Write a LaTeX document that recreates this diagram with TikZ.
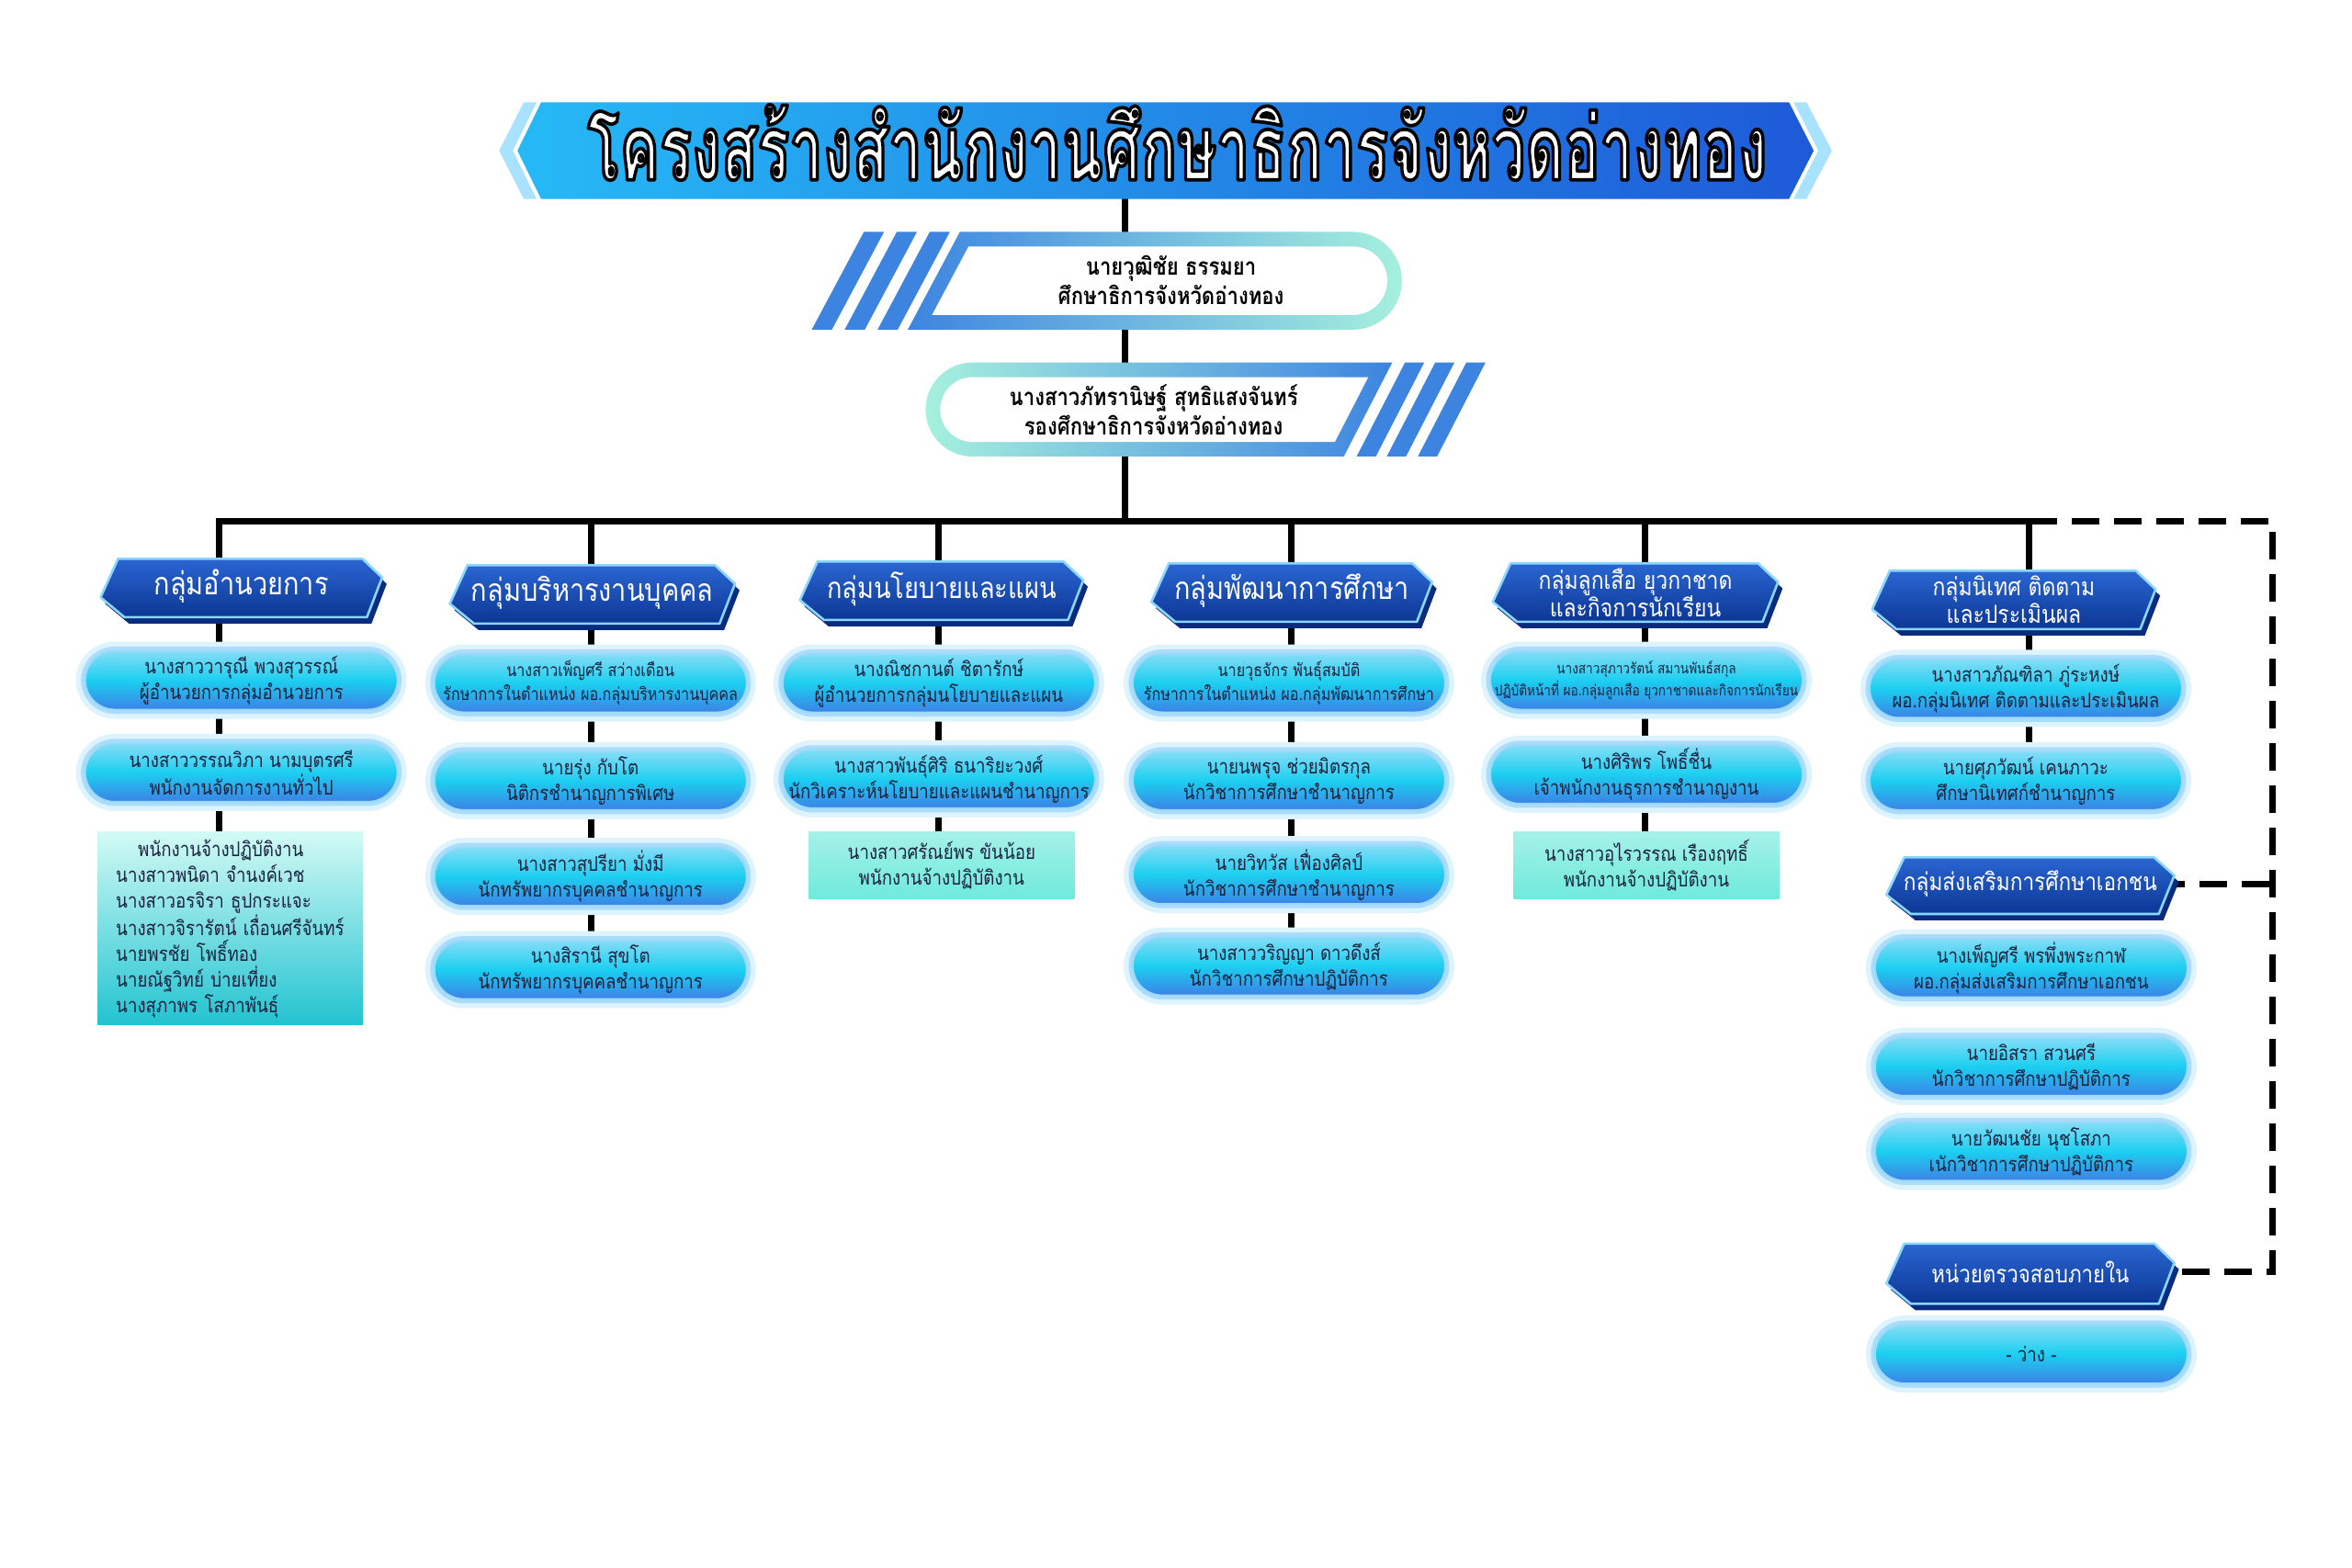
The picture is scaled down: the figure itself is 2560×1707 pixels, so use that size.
\documentclass[tikz,border=0pt]{standalone}
\usepackage{fontspec}
\usepackage{graphicx}
\usetikzlibrary{calc}
\newfontfamily\thaiN[Script=Thai,FakeStretch=0.85]{Loma}
\newfontfamily\thaiT[Script=Thai,FakeStretch=0.75]{Loma}
\newcommand\fPill{\thaiN\fontsize{11}{14}\selectfont}
\newcommand\fPillS{\thaiN\fontsize{9.5}{13}\selectfont}
\newcommand\fSmall{\thaiN\fontsize{8}{12}\selectfont}
\newcommand\fHdr{\thaiN\fontsize{17}{20}\selectfont}
\newcommand\fHdrTwo{\thaiN\fontsize{13.5}{15}\selectfont}
\newcommand\fBoss{\thaiN\bfseries\fontsize{13}{16}\selectfont}
\newcommand\fTitle{\thaiT\bfseries\fontsize{44}{50}\selectfont}
\newcommand\titlestroke{\special{pdf:literal direct 0 0 0 RG 1.7 w 1 j 2 Tr}}
\newcommand\titleunstroke{\special{pdf:literal direct 0 Tr}}
\definecolor{navytext}{HTML}{1B2340}
\definecolor{pillTop}{HTML}{86DDF7}
\definecolor{pillMid}{HTML}{1CCFF0}
\definecolor{pillBot}{HTML}{3C82E6}
\definecolor{haloA}{HTML}{DDF4FE}
\definecolor{haloB}{HTML}{A9DDFB}
\definecolor{pillRim}{HTML}{9ED9FA}
\definecolor{hdrTop}{HTML}{2A66D2}
\definecolor{hdrBot}{HTML}{0C3694}
\definecolor{hdrBack}{HTML}{0A2C7E}
\definecolor{hdrRim}{HTML}{8AD6FF}
\definecolor{ribBlue}{HTML}{3D84E0}
\definecolor{ribMint}{HTML}{A6F0DE}
\definecolor{banL}{HTML}{26B9F6}
\definecolor{banR}{HTML}{1E5AD8}
\definecolor{banEdge}{HTML}{A8E2FF}
\definecolor{tealTop}{HTML}{D2FAF4}
\definecolor{tealBot}{HTML}{22C3D1}
\definecolor{mintTop}{HTML}{A5F1E8}
\definecolor{mintBot}{HTML}{6EEADB}
\pgfdeclarelayer{bg}
\pgfsetlayers{bg,main}
\newcommand\hdrbox[4]{%
\fill[hdrBack] ({#1-0.438*#3+5},{#2-0.5*#4+7}) -- ({#1+0.43*#3+5},{#2-0.5*#4+7}) -- ({#1+0.5*#3+5},{#2-0.18*#4+7}) -- ({#1+0.446*#3+5},{#2+0.5*#4+7}) -- ({#1-0.415*#3+5},{#2+0.5*#4+7}) -- ({#1-0.5*#3+5},{#2+0.16*#4+7}) -- cycle;
\path[top color=hdrTop, bottom color=hdrBot, draw=hdrRim, line width=1.3pt, line join=round] ({#1-0.438*#3},{#2-0.5*#4}) -- ({#1+0.43*#3},{#2-0.5*#4}) -- ({#1+0.5*#3},{#2-0.18*#4}) -- ({#1+0.446*#3},{#2+0.5*#4}) -- ({#1-0.415*#3},{#2+0.5*#4}) -- ({#1-0.5*#3},{#2+0.16*#4}) -- cycle;}
\tikzset{
  conn/.style={line width=3.5pt, draw=black},
  dline/.style={line width=3.5pt, draw=black, dash pattern=on 15pt off 8pt},
  pill/.style={rectangle, rounded corners=16pt, minimum width=170pt, minimum height=32pt, inner sep=0pt, align=center, text=navytext, font=\fPill, top color=pillTop, bottom color=pillBot, middle color=pillMid, draw=pillRim, line width=1pt, preaction={draw=haloA, line width=10pt}, preaction={draw=haloB, line width=4.5pt}},
  tealbox/.style={rectangle, minimum width=144.5pt, inner sep=0pt, align=center, text=navytext, font=\fPill, top color=tealTop, bottom color=tealBot},
  mintbox/.style={tealbox, top color=mintTop, bottom color=mintBot, minimum height=36.5pt},
  hdr/.style={text=white, font=\fHdr, align=center, inner sep=0pt},
  hdrtwo/.style={hdr, font=\fHdrTwo},
  boss/.style={text=black, font=\fBoss, align=center, inner sep=0pt}
}
\begin{document}
\begin{tikzpicture}[x=0.5pt,y=-0.5pt]
\useasboundingbox (0,0) rectangle (2560,1707);
\begin{scope}[x=0.4975pt,y=-0.497pt]
% ---- title banner
\fill[banEdge] (546,165) -- (573,112) -- (587,112) -- (561,165) -- (587,218) -- (573,218) -- cycle;
\fill[banEdge] (1962,112) -- (1976,112) -- (2004,165) -- (1976,218) -- (1962,218) -- (1989,165) -- cycle;
\shade[left color=banL, right color=banR] (592,112) -- (1957,112) -- (1984,165) -- (1957,218) -- (592,218) -- (566,165) -- cycle;
\node[anchor=base, text=white, inner sep=0pt] (title) at (1288,197) {\titlestroke\resizebox{642pt}{41pt}{\fTitle โครงสร้างสำนักงานศึกษาธิการจังหวัดอ่างทอง}\titleunstroke};
% ---- director
\foreach \a in {888,924,960} \fill[ribBlue] (\a,361) -- ({\a+57},254) -- ({\a+79},254) -- ({\a+22},361) -- cycle;
\shade[left color=ribBlue, right color=ribMint] (993,361) -- (1050,254) -- (1480,254) arc[start angle=-90,end angle=90,radius=53.5] -- cycle;
\fill[white] (1019.5,345) -- (1059.5,270) -- (1480,270) arc[start angle=-90,end angle=90,radius=37.5] -- cycle;
\node[boss] (dir) at (1281,307) {นายวุฒิชัย ธรรมยา\\ศึกษาธิการจังหวัดอ่างทอง};
% ---- deputy
\foreach \a in {1484,1517,1551} \fill[ribBlue] (\a,500) -- ({\a+53},397) -- ({\a+74},397) -- ({\a+21},500) -- cycle;
\shade[left color=ribMint, right color=ribBlue] (1064,397) -- (1523,397) -- (1470,500) -- (1064,500) arc[start angle=90,end angle=270,radius=51.5] -- cycle;
\fill[white] (1064,413) -- (1496.8,413) -- (1460.2,484) -- (1064,484) arc[start angle=90,end angle=270,radius=35.5] -- cycle;
\node[boss] (dep) at (1262,449) {นางสาวภัทรานิษฐ์ สุทธิแสงจันทร์\\รองศึกษาธิการจังหวัดอ่างทอง};
% ---- bus coordinates
\coordinate (bus0) at (1231,571);
\coordinate (b1) at (240,571);
\coordinate (b2) at (647,571);
\coordinate (b3) at (1027,571);
\coordinate (b4) at (1413,571);
\coordinate (b5) at (1799,571);
\coordinate (b6) at (2220,571);
\coordinate (dc) at (2486,571);
% ---- group headers
\hdrbox{264}{644}{308}{64}
\node[hdr] (h1) at (264,642) {กลุ่มอำนวยการ};
\hdrbox{648}{651}{312}{64}
\node[hdr] (h2) at (648,649) {กลุ่มบริหารงานบุคคล};
\hdrbox{1030}{647}{310}{64}
\node[hdr, font=\thaiN\fontsize{16}{20}\selectfont] (h3) at (1030,645) {กลุ่มนโยบายและแผน};
\hdrbox{1413}{649}{307}{64}
\node[hdr] (h4) at (1413,647) {กลุ่มพัฒนาการศึกษา};
\hdrbox{1789}{649}{312}{64}
\node[hdrtwo] (h5) at (1789,649) {กลุ่มลูกเสือ ยุวกาชาด\\และกิจการนักเรียน};
\hdrbox{2203}{657}{310}{64}
\node[hdrtwo] (h6) at (2203,657) {กลุ่มนิเทศ ติดตาม\\และประเมินผล};
\hdrbox{2221}{970}{315}{62}
\node[hdr, font=\thaiN\fontsize{13.3}{18}\selectfont] (h7) at (2221,968) {กลุ่มส่งเสริมการศึกษาเอกชน};
\hdrbox{2221}{1395}{315}{66}
\node[hdr, font=\thaiN\fontsize{13.1}{18}\selectfont] (h8) at (2221,1393) {หน่วยตรวจสอบภายใน};
% ---- column 1
\node[pill] (p11) at (264,745) {นางสาววารุณี พวงสุวรรณ์\\ผู้อำนวยการกลุ่มอำนวยการ};
\node[pill] (p12) at (264,846) {นางสาววรรณวิภา นามบุตรศรี\\พนักงานจัดการงานทั่วไป};
\node[tealbox, minimum height=105pt, text width=124.5pt, inner xsep=10pt, align=left] (r1) at (252,1017) {\hspace*{12pt}พนักงานจ้างปฏิบัติงาน\\นางสาวพนิดา จำนงค์เวช\\นางสาวอรจิรา ธูปกระแจะ\\นางสาวจิรารัตน์ เถื่อนศรีจันทร์\\นายพรชัย โพธิ์ทอง\\นายณัฐวิทย์ บ่ายเที่ยง\\นางสุภาพร โสภาพันธุ์};
% ---- column 2
\node[pill, font=\fPillS] (p21) at (646,748) {นางสาวเพ็ญศรี สว่างเดือน\\รักษาการในตำแหน่ง ผอ.กลุ่มบริหารงานบุคคล};
\node[pill] (p22) at (646,855) {นายรุ่ง กับโต\\นิติกรชำนาญการพิเศษ};
\node[pill] (p23) at (646,960) {นางสาวสุปรียา มั่งมี\\นักทรัพยากรบุคคลชำนาญการ};
\node[pill] (p24) at (646,1062) {นางสิรานี สุขโต\\นักทรัพยากรบุคคลชำนาญการ};
% ---- column 3
\node[pill] (p31) at (1027,748) {นางณิชกานต์ ชิตารักษ์\\ผู้อำนวยการกลุ่มนโยบายและแผน};
\node[pill] (p32) at (1027,853) {นางสาวพันธุ์ศิริ ธนาริยะวงศ์\\นักวิเคราะห์นโยบายและแผนชำนาญการ};
\node[mintbox] (r3) at (1030,948) {นางสาวศรัณย์พร ขันน้อย\\พนักงานจ้างปฏิบัติงาน};
% ---- column 4
\node[pill, font=\fPillS] (p41) at (1410,748) {นายวุธจักร พันธุ์สมบัติ\\รักษาการในตำแหน่ง ผอ.กลุ่มพัฒนาการศึกษา};
\node[pill] (p42) at (1410,855) {นายนพรุจ ช่วยมิตรกุล\\นักวิชาการศึกษาชำนาญการ};
\node[pill] (p43) at (1410,958) {นายวิทวัส เฟื่องศิลป์\\นักวิชาการศึกษาชำนาญการ};
\node[pill] (p44) at (1410,1058) {นางสาววริญญา ดาวดึงส์\\นักวิชาการศึกษาปฏิบัติการ};
% ---- column 5
\node[pill, font=\fSmall] (p51) at (1801,745) {นางสาวสุภาวรัตน์ สมานพันธ์สกุล\\ปฏิบัติหน้าที่ ผอ.กลุ่มลูกเสือ ยุวกาชาดและกิจการนักเรียน};
\node[pill] (p52) at (1801,848) {นางศิริพร โพธิ์ชื่น\\เจ้าพนักงานธุรการชำนาญงาน};
\node[mintbox] (r5) at (1801,948) {นางสาวอุไรวรรณ เรืองฤทธิ์\\พนักงานจ้างปฏิบัติงาน};
% ---- column 6
\node[pill] (p61) at (2216,754) {นางสาวภัณฑิลา ภู่ระหงษ์\\ผอ.กลุ่มนิเทศ ติดตามและประเมินผล};
\node[pill] (p62) at (2216,855) {นายศุภวัฒน์ เคนภาวะ\\ศึกษานิเทศก์ชำนาญการ};
\node[pill] (p71) at (2222,1060) {นางเพ็ญศรี พรพึ่งพระกาฬ\\ผอ.กลุ่มส่งเสริมการศึกษาเอกชน};
\node[pill] (p72) at (2222,1168) {นายอิสรา สวนศรี\\นักวิชาการศึกษาปฏิบัติการ};
\node[pill] (p73) at (2222,1261) {นายวัฒนชัย นุชโสภา\\เนักวิชาการศึกษาปฏิบัติการ};
\node[pill] (p81) at (2222,1483) {- ว่าง -};
% ---- connectors (behind)
\begin{pgfonlayer}{bg}
\fill[white] (-20,-20) rectangle (2600,1750);
\draw[conn] (bus0 |- title.south) -- (bus0 |- dir.north);
\draw[conn] (bus0 |- dir.south) -- (bus0 |- dep.north);
\draw[conn] (bus0 |- dep.south) -- (bus0);
\draw[conn] (b1 |- h1.north) -- (b1) -- (b6);
\draw[conn] (b2) -- (b2 |- h2.north);
\draw[conn] (b3) -- (b3 |- h3.north);
\draw[conn] (b4) -- (b4 |- h4.north);
\draw[conn] (b5) -- (b5 |- h5.north);
\draw[conn] (b6) -- (b6 |- h6.north);
\draw[conn] (b1 |- h1.south) -- (b1 |- p11.north);
\draw[conn] (b1 |- p11.south) -- (b1 |- p12.north);
\draw[conn] (b1 |- p12.south) -- (b1 |- r1.north);
\draw[conn] (b2 |- h2.south) -- (b2 |- p21.north);
\draw[conn] (b2 |- p21.south) -- (b2 |- p22.north);
\draw[conn] (b2 |- p22.south) -- (b2 |- p23.north);
\draw[conn] (b2 |- p23.south) -- (b2 |- p24.north);
\draw[conn] (b3 |- h3.south) -- (b3 |- p31.north);
\draw[conn] (b3 |- p31.south) -- (b3 |- p32.north);
\draw[conn] (b3 |- p32.south) -- (b3 |- r3.north);
\draw[conn] (b4 |- h4.south) -- (b4 |- p41.north);
\draw[conn] (b4 |- p41.south) -- (b4 |- p42.north);
\draw[conn] (b4 |- p42.south) -- (b4 |- p43.north);
\draw[conn] (b4 |- p43.south) -- (b4 |- p44.north);
\draw[conn] (b5 |- h5.south) -- (b5 |- p51.north);
\draw[conn] (b5 |- p51.south) -- (b5 |- p52.north);
\draw[conn] (b5 |- p52.south) -- (b5 |- r5.north);
\draw[conn] (b6 |- h6.south) -- (b6 |- p61.north);
\draw[conn] (b6 |- p61.south) -- (b6 |- p62.north);
\draw[dline] (b6) -- (dc) -- (dc |- h8.east) -- (h8.east);
\draw[dline] (h7.east) -- (dc |- h7.east);
\end{pgfonlayer}
\end{scope}
\end{tikzpicture}
\end{document}
